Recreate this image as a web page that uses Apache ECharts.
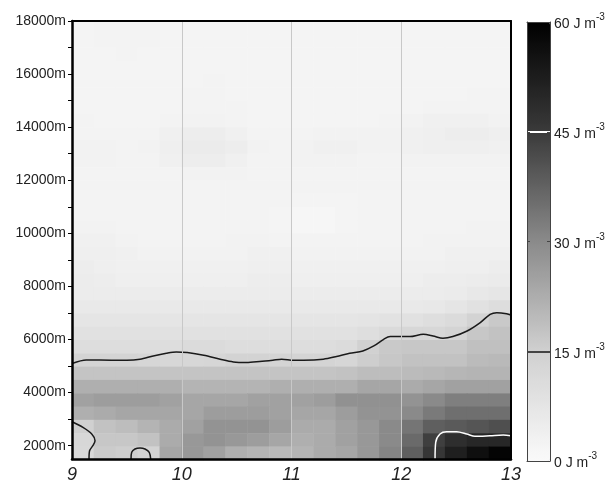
<!DOCTYPE html>
<html>
<head>
<meta charset="utf-8">
<script src="https://cdn.jsdelivr.net/npm/echarts@6/dist/echarts.min.js"></script>
<style>
html,body{margin:0;padding:0;background:#fff;}
#chart{width:615px;height:484px;}
</style>
</head>
<body>
<div id="chart"></div>
<script>
// ---- data ----
const xCenters = ['9.1','9.3','9.5','9.7','9.9','10.1','10.3','10.5','10.7','10.9','11.1','11.3','11.5','11.7','11.9','12.1','12.3','12.5','12.7','12.9'];
// heights of heatmap rows, top to bottom (m)
const heightCenters = [17750,17250,16750,16250,15750,15250,14750,14250,13750,13250,12750,12250,11750,11250,10750,10250,9750,9250,8750,8250,7750,7250,6750,6250,5750,5250,4750,4250,3750,3250,2750,2250,1750];
// energy density (J m^-3), rows top to bottom matching heightCenters
const energyRows = [
  [2,2.5,2.5,2.5,2,2,2,2,2,2,2,2,2,2,2,2,2,2,2,2],
  [2,2.5,2.5,2.5,2,2,2,2,2,2,2,2,2,2,2,2,2,2,2,2],
  [2,2,2.5,2,2,2,2,2,2,2,2,2,2,2,2,2,2,2,2,2],
  [2,2,2,2,2,2,2,2,2,2,2,2,2,2,2,2,2,2,2,2],
  [2,2,2,2,2,2,2.5,2,2,2,2,2,2,2,2,2,2,2,2,2],
  [2,2,2,2,2,2.5,2.5,2,2,2,2,2,2,2,2,2,2,2,2.5,2.5],
  [2,2,2,2,2,2.5,2.5,2.5,2,2,2,2,2,2,2,2,2.5,2.5,2.5,2.5],
  [2.5,2,2,2,2.5,3,3,2.5,2,2,2,2,2,2,2.5,3,3.5,3.5,3.5,3],
  [2.5,2.5,2.5,2.5,3.5,4.5,4.5,3.5,2.5,2.5,2.5,3,3,3,3,3.5,4,4.5,4.5,4],
  [3,3,2.5,3,4,5.5,5.5,4.5,3,2.5,3,3.5,3.5,3,3,3.5,4,4,4,3.5],
  [3,3,2.5,2.5,3.5,4.5,4.5,3.5,2.5,2.5,3,3,3,2.5,2.5,3,3,3,3,3],
  [2.5,2.5,2.5,2.5,2.5,3,3,3,2.5,2.5,2.5,2.5,2.5,2.5,2.5,2.5,2.5,2.5,2.5,2.5],
  [2.5,2.5,2.5,2.5,2.5,2.5,2.5,2.5,2.5,2.5,2.5,2.5,2.5,2.5,2.5,2.5,2.5,2.5,2.5,2.5],
  [2.5,2.5,2.5,2.5,2.5,2.5,2.5,2.5,2.5,2.5,2,2,2,2.5,2.5,2.5,2.5,2.5,2.5,2.5],
  [2.5,2.5,2.5,2.5,2.5,2.5,2.5,2.5,2.5,2,1.5,1.5,2,2.5,2.5,2.5,2.5,2.5,2.5,2.5],
  [3,3,2.5,2.5,2.5,2.5,2.5,2.5,2.5,2,1.5,1.5,2,2.5,2.5,2.5,2.5,2.5,3,3],
  [3.5,3.5,3,2.5,2.5,2.5,2.5,3,3,2.5,2.5,2.5,2.5,2.5,2.5,2.5,3,3,3,3],
  [4,4,3.5,3,3,3,3,3,3.5,3.5,3,3,3,3,3,3,3,3.5,3.5,3.5],
  [4.5,4,3.5,3.5,3.5,3.5,3.5,3.5,4,4,3.5,3.5,3.5,3.5,3.5,3.5,3.5,4,4,4.5],
  [5,4.5,4,4,4,4,4,4,4.5,4.5,4,4,4,4,4,4,4.5,4.5,5,5.5],
  [5,5,5,5,5,5,5,5,5,5,5,5,5,5,5,5,5,5.5,6.5,7],
  [6,6,6,6,6,6,6,6,6,6,6,6,6,6,6,6,6.5,7.5,9,10.5],
  [7.5,7.5,7.5,7.5,7.5,7.5,7.5,7.5,7.5,7.5,7.5,7.5,7.5,8,8.5,9,10,11,14,16.5],
  [9,9,9,9,9,9,9,9,9,9,9,9,9,10,11.5,12.5,12.5,13.5,17,18],
  [10.5,10.5,10.5,10.5,10.5,11,11,10.5,10.5,10.5,10.5,10.5,11,14.5,16.5,17,17,17,18.5,18.5],
  [13.5,13.5,13.5,13,12.5,12.5,13,14,14,13.5,13.5,13.5,13,15.5,17,18,18,18,19.5,20],
  [17.5,17.5,17.5,17.5,17.5,17.5,17.5,17.5,17.5,17.5,17.5,17.5,18,19,19,19.5,20,20.5,21,21],
  [22,22,22,22,22,21,21,21,21,22,22,22,22,24,24,23,24,25,25,25],
  [25,26,26,26,25,24,24,24,25,25,25,26,28.5,28.5,28.5,28,30,32,32,32],
  [22,23,24,24,24,24,26,26,26,25,24,24,26,28,28,30,33,35,35,35],
  [15,18,19,21,23,25,28,28,28,26,23,23,25,27,30,34,38,39,40,41],
  [12.5,17,17,18,23,27,28,27,26,24,22,23,25,27,30,36,44,48,50,50],
  [12,16,15.5,14,24,27,25,22,21,20,21,23,24,27,31,38,46,52,56,59]
];
// contour lines [x, height m]
const contour15Main = [[9.0,5100],[9.13,5232],[9.38,5221],[9.5,5221],[9.62,5259],[9.74,5383],[9.86,5484],[9.95,5533],[10.05,5510],[10.2,5409],[10.35,5259],[10.47,5157],[10.59,5135],[10.71,5172],[10.83,5221],[10.91,5259],[11.02,5221],[11.11,5221],[11.29,5259],[11.41,5360],[11.53,5484],[11.65,5571],[11.75,5758],[11.84,6010],[11.9,6112],[12.08,6112],[12.2,6198],[12.29,6134],[12.38,6048],[12.47,6112],[12.6,6322],[12.72,6638],[12.81,6950],[12.87,7014],[12.96,6976],[13.0,6924]];
const contour15Corner = [[9.0,2902],[9.1,2691],[9.18,2440],[9.21,2188],[9.19,2000],[9.16,1812],[9.155,1500]];
const contour15Bump = [[9.538,1500],[9.544,1752],[9.574,1876],[9.62,1913],[9.665,1876],[9.704,1752],[9.717,1500]];
const contour45 = [[12.308,1500],[12.314,2128],[12.353,2440],[12.414,2526],[12.505,2526],[12.597,2440],[12.672,2353],[12.809,2376],[12.93,2402],[13.0,2376]];
const xTicks = [9,10,11,12,13];
const yLabelValues = [2000,4000,6000,8000,10000,12000,14000,16000,18000];
const yTickValues = [2000,3000,4000,5000,6000,7000,8000,9000,10000,11000,12000,13000,14000,15000,16000,17000,18000];
const colorLevels = [0,15,30,45,60];
const contourLevels = [15,45];
const grayScale = ['#fafafa','#d0d0d0','#8a8a8a','#3a3a3a','#000000'];

// ---- build ----
const yCats = heightCenters.slice().reverse().map(String);
const heatData = [];
energyRows.forEach((row, r) => {
  const yi = heightCenters.length - 1 - r;
  row.forEach((v, xi) => heatData.push([xi, yi, v]));
});
const FONT = 'Liberation Sans, Arial, sans-serif';
const gridPos = {left: 72, top: 21, right: 104, bottom: 24};

const chart = echarts.init(document.getElementById('chart'), null, {renderer: 'canvas'});
chart.setOption({
  animation: false,
  backgroundColor: '#fff',
  grid: [
    Object.assign({}, gridPos),
    Object.assign({}, gridPos),
    {left: 527, top: 22, width: 23, height: 439}
  ],
  visualMap: {
    type: 'continuous',
    min: colorLevels[0], max: colorLevels[colorLevels.length - 1],
    seriesIndex: 0,
    calculable: false,
    left: 527, top: 22, padding: 0,
    itemWidth: 23, itemHeight: 439,
    text: null,
    hoverLink: false,
    inRange: {color: grayScale}
  },
  xAxis: [
    {gridIndex: 0, type: 'category', data: xCenters, show: false},
    {gridIndex: 1, type: 'value', min: xTicks[0], max: xTicks[xTicks.length-1], interval: 1, z: 10,
     axisLine: {show: true, onZero: false, lineStyle: {color: '#000', width: 2.5}},
     axisTick: {show: false},
     axisLabel: {fontFamily: FONT, fontSize: 18, fontStyle: 'italic', color: '#222', margin: 7},
     splitLine: {show: true, lineStyle: {color: '#c8c8c8', width: 1}}},
    {gridIndex: 1, type: 'value', position: 'top', min: 9, max: 13, z: 10,
     axisLine: {show: true, onZero: false, lineStyle: {color: '#000', width: 2}},
     axisTick: {show: false}, axisLabel: {show: false}, splitLine: {show: false}},
    {gridIndex: 2, type: 'value', min: 0, max: 1, z: 10,
     axisLine: {show: true, onZero: false, lineStyle: {color: '#444', width: 1}},
     axisTick: {show: false}, axisLabel: {show: false}, splitLine: {show: false}},
    {gridIndex: 2, type: 'value', position: 'top', min: 0, max: 1, z: 10,
     axisLine: {show: true, onZero: false, lineStyle: {color: '#444', width: 1}},
     axisTick: {show: false}, axisLabel: {show: false}, splitLine: {show: false}}
  ],
  yAxis: [
    {gridIndex: 0, type: 'category', data: yCats, show: false},
    {gridIndex: 1, type: 'value', min: 1500, max: 18000, z: 10,
     axisLine: {show: true, onZero: false, lineStyle: {color: '#000', width: 2.5}},
     axisTick: {show: true, length: 4, customValues: yTickValues, lineStyle: {color: '#000', width: 1}},
     axisLabel: {customValues: yLabelValues, fontFamily: FONT, fontSize: 14, color: '#222', margin: 6,
                 formatter: v => v + 'm'},
     splitLine: {show: false}},
    {gridIndex: 1, type: 'value', position: 'right', min: 1500, max: 18000, z: 10,
     axisLine: {show: true, onZero: false, lineStyle: {color: '#000', width: 2}},
     axisTick: {show: false}, axisLabel: {show: false}, splitLine: {show: false}},
    {gridIndex: 2, type: 'value', position: 'right', min: colorLevels[0], max: colorLevels[4], interval: 15, z: 10,
     axisLine: {show: true, onZero: false, lineStyle: {color: '#444', width: 1}},
     axisTick: {show: true, inside: true, length: 3, lineStyle: {color: '#444'}},
     axisLabel: {margin: 4, formatter: v => '{a|' + v + ' J m}{b|-3}',
       rich: {a: {fontFamily: FONT, fontSize: 14, color: '#222', padding: [5, 0, 0, 0]},
              b: {fontFamily: FONT, fontSize: 10, color: '#222', verticalAlign: 'top'}}},
     splitLine: {show: false}},
    {gridIndex: 2, type: 'value', position: 'left', min: 0, max: 60, interval: 15, z: 10,
     axisLine: {show: true, onZero: false, lineStyle: {color: '#444', width: 1}},
     axisTick: {show: true, inside: true, length: 3, lineStyle: {color: '#444'}},
     axisLabel: {show: false}, splitLine: {show: false}}
  ],
  series: [
    {type: 'heatmap', xAxisIndex: 0, yAxisIndex: 0, data: heatData, z: 2,
     itemStyle: {borderWidth: 0}, emphasis: {disabled: true}, silent: true},
    {type: 'line', xAxisIndex: 1, yAxisIndex: 1, data: contour15Main, smooth: 0.3, symbol: 'none', z: 5,
     lineStyle: {color: '#1a1a1a', width: 1.5}, silent: true},
    {type: 'line', xAxisIndex: 1, yAxisIndex: 1, data: contour15Corner, smooth: 0.3, symbol: 'none', z: 5,
     lineStyle: {color: '#1a1a1a', width: 1.5}, silent: true},
    {type: 'line', xAxisIndex: 1, yAxisIndex: 1, data: contour15Bump, smooth: 0.3, symbol: 'none', z: 5,
     lineStyle: {color: '#1a1a1a', width: 1.5}, silent: true},
    {type: 'line', xAxisIndex: 1, yAxisIndex: 1, data: contour45, smooth: 0.3, symbol: 'none', z: 5,
     lineStyle: {color: '#ffffff', width: 1.5}, silent: true},
    {type: 'line', xAxisIndex: 3, yAxisIndex: 3, data: [], symbol: 'none', z: 10, silent: true,
     markLine: {symbol: 'none', silent: true, label: {show: false},
       data: [
         {yAxis: contourLevels[0], lineStyle: {color: '#444', width: 2, type: 'solid'}},
         {yAxis: contourLevels[1], lineStyle: {color: '#ffffff', width: 2, type: 'solid'}}
       ]}}
  ]
});
</script>
</body>
</html>
